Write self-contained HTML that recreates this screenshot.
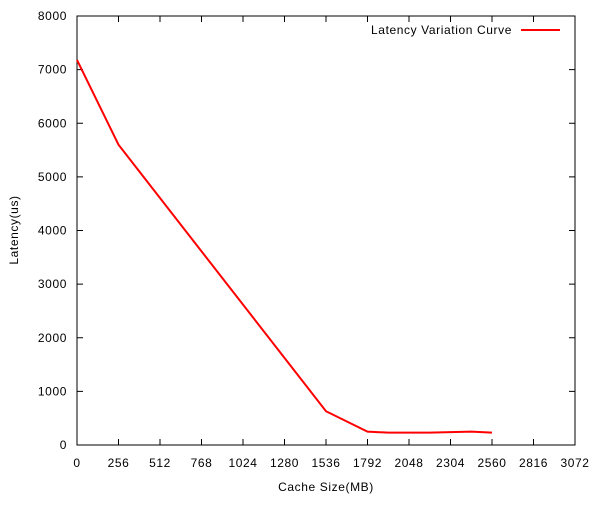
<!DOCTYPE html>
<html><head><meta charset="utf-8"><style>
body{margin:0;background:#fff}
svg text{font-family:"Liberation Sans",sans-serif;font-size:12px;letter-spacing:0.6px;fill:#000}
</style></head><body>
<svg id="chart" width="600" height="500">
<rect x="0" y="0" width="600" height="500" fill="#fff"/>
<g id="axes"></g>
<rect x="77" y="16" width="498" height="429" fill="none" stroke="#000" stroke-width="1"/>
<text x="326" y="491" text-anchor="middle">Cache Size(MB)</text>
<text x="18" y="230" text-anchor="middle" transform="rotate(-90 18 230)">Latency(us)</text>
<g>
<text x="512" y="34" text-anchor="end">Latency Variation Curve</text>
<line x1="521" y1="30" x2="560" y2="30" stroke="#f00" stroke-width="2"/>
</g>
</svg>
<script>
const xTicks=[0,256,512,768,1024,1280,1536,1792,2048,2304,2560,2816,3072];
const yTicks=[0,1000,2000,3000,4000,5000,6000,7000,8000];
const cacheSizes=[0,256,1536,1792,1920,2176,2432,2560];
const latencies=[7180,5600,630,250,230,230,250,230];
const L=77,R=575,T=16,B=445;
function xs(v){return L+(v-0)/(3072-0)*(R-L);}
function ys(v){return B-(v-0)/(8000-0)*(B-T);}
const NS="http://www.w3.org/2000/svg";
const g=document.getElementById('axes');
const svg=document.getElementById('chart');
xTicks.forEach(t=>{
  const x=xs(t);
  [[B,B-6],[T,T+6]].forEach(p=>{
    const l=document.createElementNS(NS,'line');
    l.setAttribute('x1',x);l.setAttribute('x2',x);l.setAttribute('y1',p[0]);l.setAttribute('y2',p[1]);
    l.setAttribute('stroke','#000');
    
    
    g.appendChild(l);
  });
  const tx=document.createElementNS(NS,'text');
  tx.setAttribute('x',x);tx.setAttribute('y',467);tx.setAttribute('text-anchor','middle');
  tx.textContent=t;
  
  
  g.appendChild(tx);
});
yTicks.forEach(t=>{
  const y=ys(t);
  [[L,L+6],[R,R-6]].forEach(p=>{
    const l=document.createElementNS(NS,'line');
    l.setAttribute('x1',p[0]);l.setAttribute('x2',p[1]);l.setAttribute('y1',y);l.setAttribute('y2',y);
    l.setAttribute('stroke','#000');
    
    
    g.appendChild(l);
  });
  const tx=document.createElementNS(NS,'text');
  tx.setAttribute('x',67);tx.setAttribute('y',y+4);tx.setAttribute('text-anchor','end');
  tx.textContent=t;
  
  
  g.appendChild(tx);
});
const pl=document.createElementNS(NS,'polyline');
pl.setAttribute('points',cacheSizes.map((c,i)=>xs(c)+','+ys(latencies[i])).join(' '));
pl.setAttribute('fill','none');pl.setAttribute('stroke','#f00');pl.setAttribute('stroke-width','2');


svg.appendChild(pl);
</script>
</body></html>
